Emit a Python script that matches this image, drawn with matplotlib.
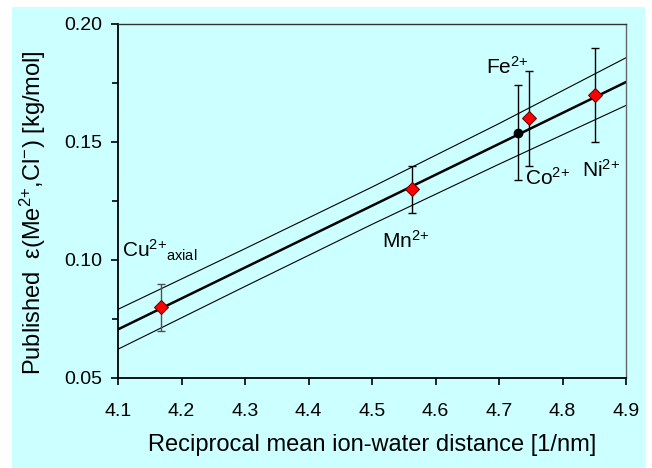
import matplotlib
matplotlib.use("Agg")
import matplotlib.pyplot as plt
from matplotlib.patches import Rectangle

plt.rcParams['font.family'] = ['Liberation Sans', 'DejaVu Sans']
plt.rcParams['mathtext.fontset'] = 'custom'
plt.rcParams['mathtext.rm'] = 'Liberation Sans'

# published values, one per ion
ions = ['Cu', 'Mn', 'Fe', 'Ni']
x_ion = [4.167, 4.563, 4.748, 4.851]
y_ion = [0.080, 0.130, 0.160, 0.170]
err_ion = [0.010, 0.010, 0.020, 0.020]

# cobalt, black point
x_co = [4.730]
y_co = [0.154]
err_co = [0.020]

# regression line and confidence band
x_fit = [4.1, 4.3, 4.5, 4.7, 4.9]
y_fit = [0.0706, 0.0968, 0.1230, 0.1492, 0.1754]
y_upper = [0.0791, 0.1048, 0.1309, 0.1578, 0.1857]
y_lower = [0.0622, 0.0888, 0.1151, 0.1406, 0.1655]

bg = '#CCFFFF'

fig = plt.figure(figsize=(6.52, 4.68), dpi=100)
fig.patch.set_facecolor('white')
fig.add_artist(Rectangle((12 / 652, 0), 633 / 652, 461 / 468,
                         transform=fig.transFigure, facecolor=bg,
                         edgecolor='none', zorder=-10))
ax = fig.add_axes([118 / 652, 1 - 378 / 468, 508 / 652, 354 / 468])
ax.set_zorder(1)
ax.set_facecolor(bg)

ax.plot(x_fit, y_upper, color='black', lw=0.8)
ax.plot(x_fit, y_lower, color='black', lw=0.8)
ax.plot(x_fit, y_fit, color='black', lw=1.8)

# error bars (Cu bar is greyish)
bar_colors = ['#505050', 'black', 'black', 'black']
for xi, yi, ei, c in zip(x_ion, y_ion, err_ion, bar_colors):
    ax.errorbar([xi], [yi], yerr=[ei], fmt='none', ecolor=c,
                elinewidth=1, capsize=3, capthick=1, zorder=3)
ax.errorbar(x_co, y_co, yerr=err_co, fmt='o', color='black', ms=6,
            elinewidth=1, capsize=3, capthick=1, zorder=4)
ax.plot(x_ion, y_ion, 'D', ms=7, markerfacecolor='red',
        markeredgecolor='#600000', markeredgewidth=0.7, zorder=5)

fs = 15
sup = r'$\mathregular{^{2{+}}}$'
ax.text(4.106, 0.1042, r'Cu$\mathregular{^{2{+}}{}_{axial}}$', fontsize=fs, va='center')
ax.text(4.515, 0.1080, 'Mn' + sup, fontsize=fs, va='center')
ax.text(4.679, 0.1818, 'Fe' + sup, fontsize=fs, va='center')
ax.text(4.741, 0.1347, 'Co' + sup, fontsize=fs, va='center')
ax.text(4.830, 0.1380, 'Ni' + sup, fontsize=fs, va='center')

ax.set_xlim(4.1, 4.9)
ax.set_ylim(0.05, 0.20)
ax.set_xticks([4.1, 4.2, 4.3, 4.4, 4.5, 4.6, 4.7, 4.8, 4.9])
ax.set_yticks([0.05, 0.10, 0.15, 0.20])
ax.set_yticks([0.075, 0.125, 0.175], minor=True)
ax.set_xticklabels(['4.1', '4.2', '4.3', '4.4', '4.5', '4.6', '4.7', '4.8', '4.9'])
ax.set_yticklabels(['0.05', '0.10', '0.15', '0.20'])
ax.tick_params(axis='both', which='major', direction='out', length=5,
               width=1.2, labelsize=14)
ax.tick_params(axis='x', which='major', pad=13)
ax.tick_params(axis='y', which='major', pad=6.5)
ax.tick_params(axis='y', which='minor', direction='out', length=4.5, width=1.2)

for s in ['left', 'bottom']:
    ax.spines[s].set_linewidth(1.3)
    ax.spines[s].set_color('black')
ax.spines['top'].set_linewidth(1)
ax.spines['top'].set_color('#333333')
ax.spines['right'].set_linewidth(1)
ax.spines['right'].set_color('#666666')

ax.set_xlabel('Reciprocal mean ion-water distance [1/nm]', fontsize=17, labelpad=10)
ax.set_ylabel(r'Published  ε(Me$\mathregular{^{2{+}}}$,Cl$\mathregular{^{-}}$) [kg/mol]',
              fontsize=17)
ax.yaxis.set_label_coords(-0.138, 0.466)

fig.savefig('out.png', dpi=100, facecolor=fig.get_facecolor())
